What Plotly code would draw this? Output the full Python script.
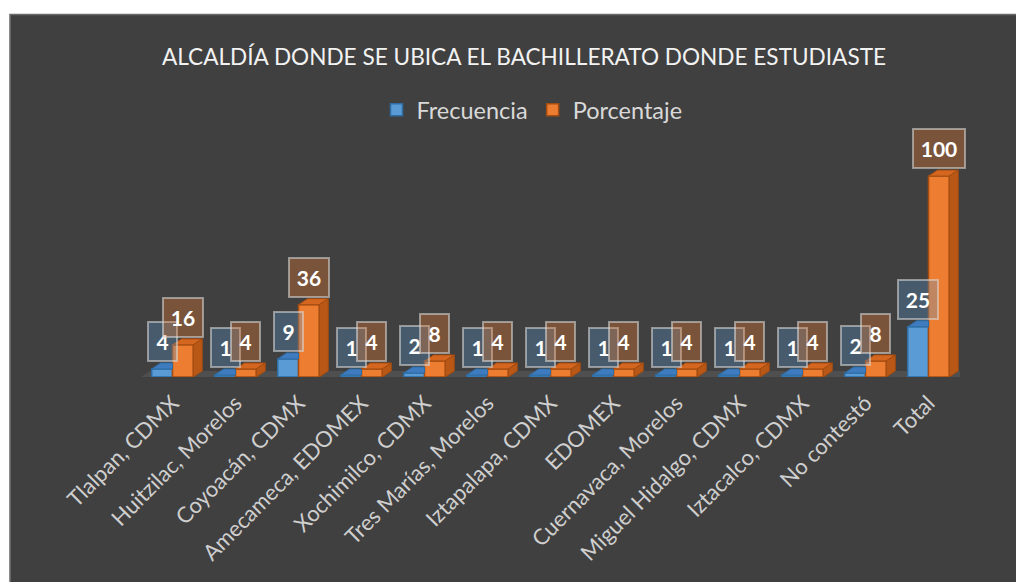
import plotly.graph_objects as go

# ---------------- data ----------------
categories = ["Tlalpan, CDMX", "Huitzilac, Morelos", "Coyoacán, CDMX", "Amecameca, EDOMEX",
              "Xochimilco, CDMX", "Tres Marías, Morelos", "Iztapalapa, CDMX", "EDOMEX",
              "Cuernavaca, Morelos", "Miguel Hidalgo, CDMX", "Iztacalco, CDMX", "No contestó", "Total"]
frecuencia = [4, 1, 9, 1, 2, 1, 1, 1, 1, 1, 1, 2, 25]
porcentaje = [16, 4, 36, 4, 8, 4, 4, 4, 4, 4, 4, 8, 100]
series_names = ["Frecuencia", "Porcentaje"]
title_text = "ALCALDÍA DONDE SE UBICA EL BACHILLERATO DONDE ESTUDIASTE"

# ---------------- layout constants (page pixels, body has an 8px margin) ----------------
OFF = 8
PAGE_W, PAGE_H = 1024, 582
W, H = PAGE_W - OFF, PAGE_H - OFF
PL, PR, PT, PB = 140.5, 960.5, 156, 377          # plot area in page pixels
ML, MR, MT, MB = PL - OFF, PAGE_W - PR, PT - OFF, PAGE_H - PB
YMAX = 110
plot_w = PR - PL
plot_h = PB - PT
n = len(categories)
px_x = plot_w / n
px_y = plot_h / YMAX
BW = 0.33                 # bar width in category units
DX = 9 / px_x             # 3D depth (x)
DY = 6 / px_y             # 3D depth (y)
FONT = "Lato"

BG = "#404040"
BLUE, BLUE_LINE, BLUE_TOP = "#5b9bd5", "#2e6da4", "#3f7cbf"
ORANGE, ORANGE_LINE, ORANGE_TOP, ORANGE_SIDE = "#ed7d31", "#a34c12", "#d4661f", "#b85716"

xs = list(range(n))
fig = go.Figure()

# front faces
fig.add_trace(go.Bar(x=xs, y=frecuencia, width=BW, offset=-BW, name=series_names[0],
                     marker=dict(color=BLUE, line=dict(color=BLUE_LINE, width=1.5)),
                     hoverinfo="skip"))
fig.add_trace(go.Bar(x=xs, y=porcentaje, width=BW, offset=0, name=series_names[1],
                     marker=dict(color=ORANGE, line=dict(color=ORANGE_LINE, width=1.5)),
                     hoverinfo="skip"))


def poly(px, py, fill, line):
    fig.add_trace(go.Scatter(x=px + [px[0]], y=py + [py[0]], mode="lines", fill="toself",
                             fillcolor=fill, line=dict(color=line, width=1),
                             showlegend=False, hoverinfo="skip"))


# 3D top / side faces
for i, (f, p) in enumerate(zip(frecuencia, porcentaje)):
    poly([i - BW, i - BW + DX, i, i], [f, f + DY, f + DY, f], BLUE_TOP, BLUE_LINE)
    poly([i, i + DX, i + BW + DX, i + BW], [p, p + DY, p + DY, p], ORANGE_TOP, ORANGE_LINE)
    poly([i + BW, i + BW + DX, i + BW + DX, i + BW], [0, DY, p + DY, p], ORANGE_SIDE, ORANGE_LINE)

# value labels
def box_w(v):
    return {1: 27, 2: 38, 3: 50}[len(str(v))]

annotations = []
for i, f in enumerate(frecuencia):
    annotations.append(dict(x=i - BW / 2, y=f, xref="x", yref="y", text=f"<b>{f}</b>",
                            showarrow=False, yanchor="bottom", yshift=7,
                            width=box_w(f), height=37, borderpad=0, borderwidth=2,
                            bgcolor="rgba(91,155,213,0.30)", bordercolor="rgba(220,220,220,0.55)",
                            font=dict(family=FONT, size=21, color="white")))
for i, p in enumerate(porcentaje):
    annotations.append(dict(x=i + BW / 2, y=p, xref="x", yref="y", text=f"<b>{p}</b>",
                            showarrow=False, yanchor="bottom", yshift=7,
                            width=box_w(p), height=37, borderpad=0, borderwidth=2,
                            bgcolor="rgba(237,125,49,0.33)", bordercolor="rgba(220,220,220,0.55)",
                            font=dict(family=FONT, size=21, color="white")))


def pxx(X):  # page x -> paper x
    return (X - PL) / plot_w


def pxy(Y):  # page y -> paper y
    return (PB - Y) / plot_h


shapes = [
    # floor
    dict(type="path", xref="x", yref="y", layer="below",
         path=f"M {-0.5},0 L {-0.5 + DX},{DY} L {n - 0.5 + DX},{DY} L {n - 0.5},0 Z",
         fillcolor="#4f4f4f", line=dict(width=0)),
    # white page margins
    dict(type="rect", xref="paper", yref="paper", layer="above",
         x0=pxx(0), x1=pxx(PAGE_W + 10), y0=pxy(14), y1=pxy(0), fillcolor="white", line=dict(width=0)),
    dict(type="rect", xref="paper", yref="paper", layer="above",
         x0=pxx(0), x1=pxx(9), y0=pxy(PAGE_H + 10), y1=pxy(0), fillcolor="white", line=dict(width=0)),
    # chart border
    dict(type="rect", xref="paper", yref="paper", layer="above",
         x0=pxx(9.5), x1=pxx(PAGE_W + 5), y0=pxy(PAGE_H + 5), y1=pxy(14.5), fillcolor="rgba(0,0,0,0)",
         line=dict(color="#6a6a6a", width=1.5)),
]

fig.update_layout(
    width=W, height=H,
    margin=dict(l=ML, r=MR, t=MT, b=MB, pad=0),
    paper_bgcolor=BG, plot_bgcolor="rgba(0,0,0,0)",
    barmode="overlay",
    title=dict(text=title_text, x=(524 - OFF) / W, xref="container", xanchor="center",
               y=1 - (57 - OFF) / H, yref="container", yanchor="middle",
               font=dict(family=FONT, size=22.6, color="#f2f2f2")),
    legend=dict(orientation="h", xref="container", yref="container", x=(532 - OFF) / W, xanchor="center",
                y=1 - (110 - OFF) / H, yanchor="middle", font=dict(family=FONT, size=23.5, color="#d9d9d9"),
                bgcolor="rgba(0,0,0,0)", itemwidth=30),
    xaxis=dict(range=[-0.5, n - 0.5], tickvals=xs, ticktext=categories, tickangle=-45,
               showgrid=False, zeroline=False, showline=False, ticks="", ticklabelstandoff=8,
               tickfont=dict(family=FONT, size=22, color="#cfcfcf")),
    yaxis=dict(range=[0, YMAX], visible=False, showgrid=False, zeroline=False),
    annotations=annotations, shapes=shapes,
    showlegend=True,
)

fig.write_html("out.html")
